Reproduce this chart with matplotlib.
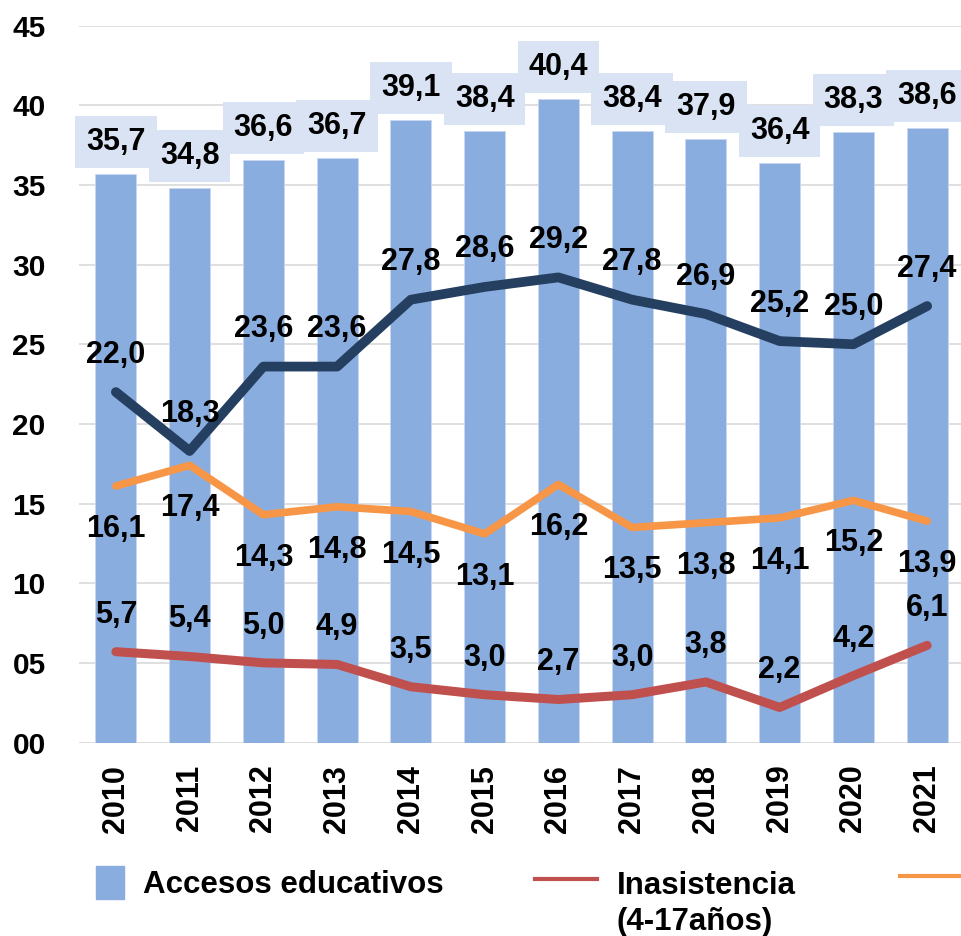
import numpy as np
import matplotlib
matplotlib.use("Agg")
import matplotlib.pyplot as plt
from matplotlib.patches import Rectangle
from matplotlib.lines import Line2D

years = ['2010', '2011', '2012', '2013', '2014', '2015',
         '2016', '2017', '2018', '2019', '2020', '2021']
accesos = [35.7, 34.8, 36.6, 36.7, 39.1, 38.4, 40.4, 38.4, 37.9, 36.4, 38.3, 38.6]
serie_azul = [22.0, 18.3, 23.6, 23.6, 27.8, 28.6, 29.2, 27.8, 26.9, 25.2, 25.0, 27.4]
serie_naranja = [16.1, 17.4, 14.3, 14.8, 14.5, 13.1, 16.2, 13.5, 13.8, 14.1, 15.2, 13.9]
inasistencia = [5.7, 5.4, 5.0, 4.9, 3.5, 3.0, 2.7, 3.0, 3.8, 2.2, 4.2, 6.1]
yticks = [0, 5, 10, 15, 20, 25, 30, 35, 40, 45]

c_bar = '#8AADE0'
c_box = '#DAE3F3'
c_navy = '#243F60'
c_orange = '#F79646'
c_red = '#C0504D'
num_font = 'Liberation Sans'

W, H = 962, 936
fig = plt.figure(figsize=(W / 100, H / 100), dpi=100)
ax = fig.add_axes([79 / W, 1 - 742.5 / H, (964 - 79) / W, (742.5 - 25.7) / H])

x = np.arange(len(years))
ax.bar(x, accesos, width=0.556, color=c_bar, edgecolor='#C9D8F0', linewidth=0.6, zorder=2)
ax.plot(x, serie_azul, color=c_navy, lw=7, solid_capstyle='round', solid_joinstyle='round', zorder=3)
ax.plot(x, serie_naranja, color=c_orange, lw=5.5, solid_capstyle='round', solid_joinstyle='round', zorder=3)
ax.plot(x, inasistencia, color=c_red, lw=6.5, solid_capstyle='round', solid_joinstyle='round', zorder=3)

ax.set_xlim(-0.5, 11.5)
ax.set_ylim(0, 45)
ax.set_yticks(yticks)
ax.set_yticklabels([f'{v:02d}' for v in yticks])
ax.set_xticks(x)
ax.set_xticklabels(years)
ax.grid(axis='y', color='#D9D9D9', lw=1.2, zorder=0)
ax.set_axisbelow(True)
for s in ax.spines.values():
    s.set_visible(False)
ax.tick_params(length=0)
ax.tick_params(axis='y', pad=24)
ax.tick_params(axis='x', pad=16)
for t in ax.get_yticklabels():
    t.set_fontfamily(num_font)
    t.set_fontweight('bold')
    t.set_fontsize(21.5)
for t in ax.get_xticklabels():
    t.set_fontfamily('Liberation Sans')
    t.set_fontweight('bold')
    t.set_fontsize(22)
    t.set_rotation(90)

px = 0.72  # pixels -> points
lab = dict(ha='center', va='baseline', fontsize=22, fontweight='bold',
           fontfamily=num_font, textcoords='offset points', zorder=5)


def fmt(v):
    return f'{v:.1f}'.replace('.', ',')


for i, v in enumerate(accesos):
    ax.annotate(fmt(v), (i, v), xytext=(0, 24 * px),
                bbox=dict(boxstyle='square,pad=0.36', fc=c_box, ec='none'), **lab)
for i, v in enumerate(serie_azul):
    ax.annotate(fmt(v), (i, v), xytext=(0, 29.5 * px), **lab)
for i, v in enumerate(serie_naranja):
    ax.annotate(fmt(v), (i, v), xytext=(0, -51 * px), **lab)
for i, v in enumerate(inasistencia):
    ax.annotate(fmt(v), (i, v), xytext=(0, 29 * px), **lab)

# legend, drawn by hand (third entry is cut by the figure edge)
tf = fig.transFigure
fig.patches.append(Rectangle((96 / W, 1 - 899 / H), 28 / W, 33 / H,
                             transform=tf, color=c_bar))
fig.text(143 / W, 1 - 893 / H, 'Accesos educativos', fontsize=22.5,
         fontweight='bold', fontfamily='Liberation Sans', va='baseline')
fig.lines.append(Line2D([535 / W, 597 / W], [1 - 879 / H] * 2, transform=tf,
                        color=c_red, lw=3))
fig.text(617 / W, 1 - 930 / H, 'Inasistencia\n(4-17años)', fontsize=22.5,
         fontweight='bold', fontfamily='Liberation Sans', va='baseline',
         linespacing=1.25)
fig.lines.append(Line2D([900 / W, 962 / W], [1 - 876 / H] * 2, transform=tf,
                        color=c_orange, lw=3))

fig.savefig('out.png', dpi=100)
